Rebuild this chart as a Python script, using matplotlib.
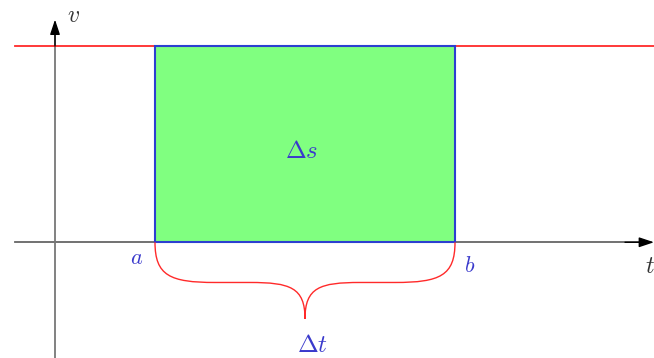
import matplotlib
matplotlib.use('Agg')
import matplotlib.pyplot as plt
from matplotlib.path import Path
import matplotlib.patches as patches

plt.rcParams['mathtext.fontset'] = 'cm'

# Datos: velocidad constante entre t = a y t = b
t_a = 1.0
t_b = 4.0
v_const = 2.0
etiquetas = {"a": r"$a$", "b": r"$b$", "area": r"$\Delta s$", "dt": r"$\Delta t$"}

azul = '#3a3acc'
rojo = '#ff2a2a'

fig = plt.figure(figsize=(6.54, 3.58), dpi=100)
ax = fig.add_axes([0, 0, 1, 1])
ax.set_xlim(-0.55, 5.99)
ax.set_ylim(-1.18, 2.47)
ax.axis('off')

# Ejes (linea gris) y puntas de flecha negras
ax.plot([-0.40, 5.9], [0, 0], color='#666666', lw=1.3, zorder=1)
ax.plot([0, 0], [-1.18, 2.15], color='#777777', lw=1.3, zorder=1)
ax.annotate('', xy=(5.99, 0), xytext=(5.7, 0),
            arrowprops=dict(arrowstyle='-|>,head_length=0.9,head_width=0.3',
                            color='black', lw=1.0, shrinkA=0, shrinkB=0))
ax.annotate('', xy=(0, 2.27), xytext=(0, 2.0),
            arrowprops=dict(arrowstyle='-|>,head_length=0.9,head_width=0.3',
                            color='black', lw=1.0, shrinkA=0, shrinkB=0))

# Recta de velocidad
ax.plot([-0.40, 5.99], [v_const, v_const], color=rojo, lw=1.3, zorder=2)

# Area bajo la curva
rect = patches.Rectangle((t_a, 0), t_b - t_a, v_const, facecolor='#80ff80',
                         edgecolor='#2c3fd0', lw=1.5, zorder=3)
ax.add_patch(rect)

# Llave debajo del intervalo
m = (t_a + t_b) / 2
d1 = -0.41
d2 = -0.78
verts = [(t_a, 0), (t_a, -0.34), (t_a + 0.15, d1), (t_a + 0.6, d1),
         (m - 0.55, d1),
         (m - 0.15, d1), (m, d1 - 0.05), (m, d2),
         (m, d1 - 0.05), (m + 0.15, d1), (m + 0.55, d1),
         (t_b - 0.6, d1),
         (t_b - 0.15, d1), (t_b, -0.34), (t_b, 0)]
codes = [Path.MOVETO, Path.CURVE4, Path.CURVE4, Path.CURVE4,
         Path.LINETO,
         Path.CURVE4, Path.CURVE4, Path.CURVE4,
         Path.CURVE4, Path.CURVE4, Path.CURVE4,
         Path.LINETO,
         Path.CURVE4, Path.CURVE4, Path.CURVE4]
ax.add_patch(patches.PathPatch(Path(verts, codes), facecolor='none',
                               edgecolor=rojo, lw=1.0, zorder=4))

# Etiquetas
ax.text(0.12, 2.32, r"$v$", fontsize=17, color='#333333', ha='left', va='center')
ax.text(5.9, -0.24, r"$t$", fontsize=17, color='#333333', ha='left', va='center')
ax.text(t_a - 0.18, -0.16, etiquetas["a"], fontsize=16, color=azul, ha='center', va='center')
ax.text(t_b + 0.15, -0.24, etiquetas["b"], fontsize=16, color=azul, ha='center', va='center')
ax.text(m - 0.03, 0.93, etiquetas["area"], fontsize=18, color=azul,
        ha='center', va='center')
ax.text(m + 0.07, -1.05, etiquetas["dt"], fontsize=18, color=azul, ha='center', va='center')

fig.savefig("out.png", dpi=100)
